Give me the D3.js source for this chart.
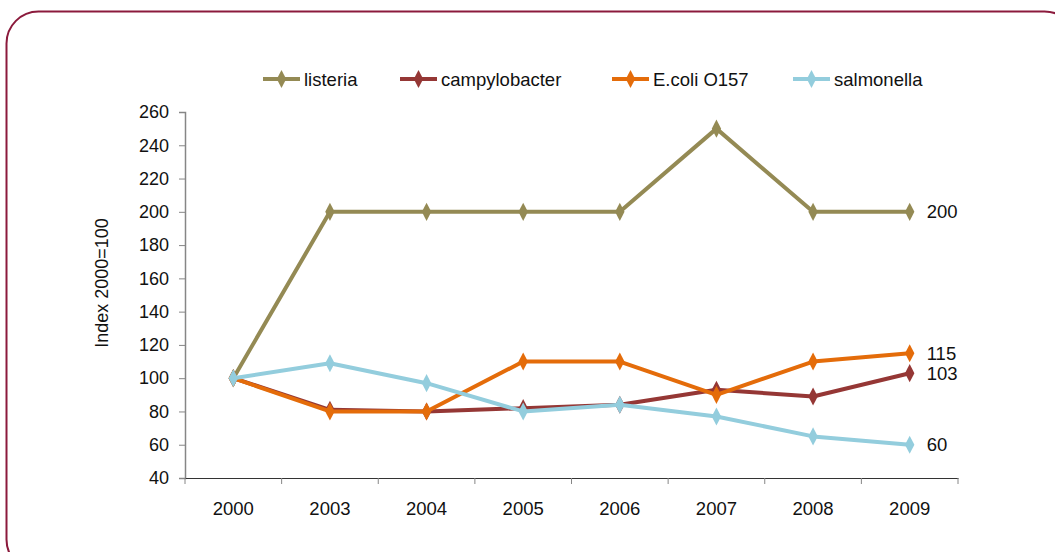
<!DOCTYPE html>
<meta charset="utf-8">
<script src="https://d3js.org/d3.v7.min.js"></script>
<style>
  body { margin: 0; background: #fff; }
  text { font-family: "Liberation Sans", Arial, sans-serif; fill: #111; }
</style>
<div id="chart"></div>
<script>
// data
var years = ["2000", "2003", "2004", "2005", "2006", "2007", "2008", "2009"];
var listeria = [100, 200, 200, 200, 200, 250, 200, 200];
var campylobacter = [100, 81, 80, 82, 84, 93, 89, 103];
var ecoli = [100, 80, 80, 110, 110, 90, 110, 115];
var salmonella = [100, 109, 97, 80, 84, 77, 65, 60];
var yTicks = [40, 60, 80, 100, 120, 140, 160, 180, 200, 220, 240, 260];
var endLabels = ["200", "103", "115", "60"];

var series = [
  {name: "listeria", values: listeria, color: "#948A54"},
  {name: "campylobacter", values: campylobacter, color: "#953735"},
  {name: "E.coli O157", values: ecoli, color: "#E46C0A"},
  {name: "salmonella", values: salmonella, color: "#93CDDD"}
];

var W = 1055, H = 552;
var margin = {top: 112, right: 97, bottom: 74, left: 185},
    width = W - margin.left - margin.right,
    height = H - margin.top - margin.bottom;

var svg = d3.select("#chart").append("svg")
    .attr("width", W).attr("height", H);

// rounded frame
svg.append("rect")
    .attr("x", 6.5).attr("y", 11.5)
    .attr("width", 1070).attr("height", 560)
    .attr("rx", 32).attr("ry", 32)
    .attr("fill", "none")
    .attr("stroke", "#8B1A3C")
    .attr("stroke-width", 2);

var g = svg.append("g")
    .attr("transform", "translate(" + margin.left + "," + margin.top + ")");

var x = d3.scaleBand().domain(years).range([0, width]);
var y = d3.scaleLinear().domain([40, 260]).range([height, 0]);

// y axis
var yAxis = g.append("g")
    .call(d3.axisLeft(y).tickValues(yTicks).tickSize(6).tickPadding(10));
yAxis.select(".domain").attr("stroke", "#868686").attr("stroke-width", 1.5);
yAxis.selectAll(".tick line").attr("stroke", "#868686");
yAxis.selectAll("text").style("font-size", "18px").attr("fill", "#111");

// x axis (ticks at band edges)
var xAxis = g.append("g")
    .attr("transform", "translate(0," + height + ")")
    .call(d3.axisBottom(x).tickSize(0).tickPadding(24));
xAxis.select(".domain").attr("stroke", "#333").attr("stroke-width", 1.2);
xAxis.selectAll("text").style("font-size", "18.5px").attr("fill", "#111");
g.append("g").selectAll("line")
  .data(years.concat(["end"]))
  .join("line")
    .attr("x1", function(d, i) { return i * x.step(); })
    .attr("x2", function(d, i) { return i * x.step(); })
    .attr("y1", height).attr("y2", height + 6)
    .attr("stroke", "#868686");

// y title
svg.append("text")
    .attr("transform", "translate(108," + (margin.top + height / 2 - 12) + ") rotate(-90)")
    .attr("text-anchor", "middle")
    .style("font-size", "18px")
    .text("Index 2000=100");

var line = d3.line()
    .x(function(d, i) { return x(years[i]) + x.bandwidth() / 2; })
    .y(function(d) { return y(d); });

var diamond = d3.symbol().type(d3.symbolDiamond).size(95);

// draw in order so listeria at bottom, salmonella on top
series.forEach(function(s) {
  g.append("path")
    .datum(s.values)
    .attr("d", line)
    .attr("fill", "none")
    .attr("stroke", s.color)
    .attr("stroke-width", 4)
    .attr("stroke-linejoin", "round");
  g.selectAll(null)
    .data(s.values)
    .join("path")
      .attr("d", diamond)
      .attr("transform", function(d, i) {
        return "translate(" + (x(years[i]) + x.bandwidth() / 2) + "," + y(d) + ") scale(0.9,1)";
      })
      .attr("fill", s.color);
});

// end labels
series.forEach(function(s, i) {
  var v = s.values[s.values.length - 1];
  g.append("text")
    .attr("x", x(years[years.length - 1]) + x.bandwidth() / 2 + 17)
    .attr("y", y(v))
    .attr("dy", "0.36em")
    .style("font-size", "18.5px")
    .text(endLabels[i]);
});

// legend
var legendX = [263, 400, 612, 793];
var lg = svg.append("g").attr("transform", "translate(0,79)");
series.forEach(function(s, i) {
  var item = lg.append("g").attr("transform", "translate(" + legendX[i] + ",0)");
  item.append("line")
    .attr("x1", 0).attr("x2", 37)
    .attr("stroke", s.color).attr("stroke-width", 4);
  item.append("path")
    .attr("d", diamond)
    .attr("transform", "translate(18.5,0) scale(0.9,1)")
    .attr("fill", s.color);
  item.append("text")
    .attr("x", 41).attr("dy", "0.36em")
    .style("font-size", "18.5px")
    .text(s.name);
});
</script>
